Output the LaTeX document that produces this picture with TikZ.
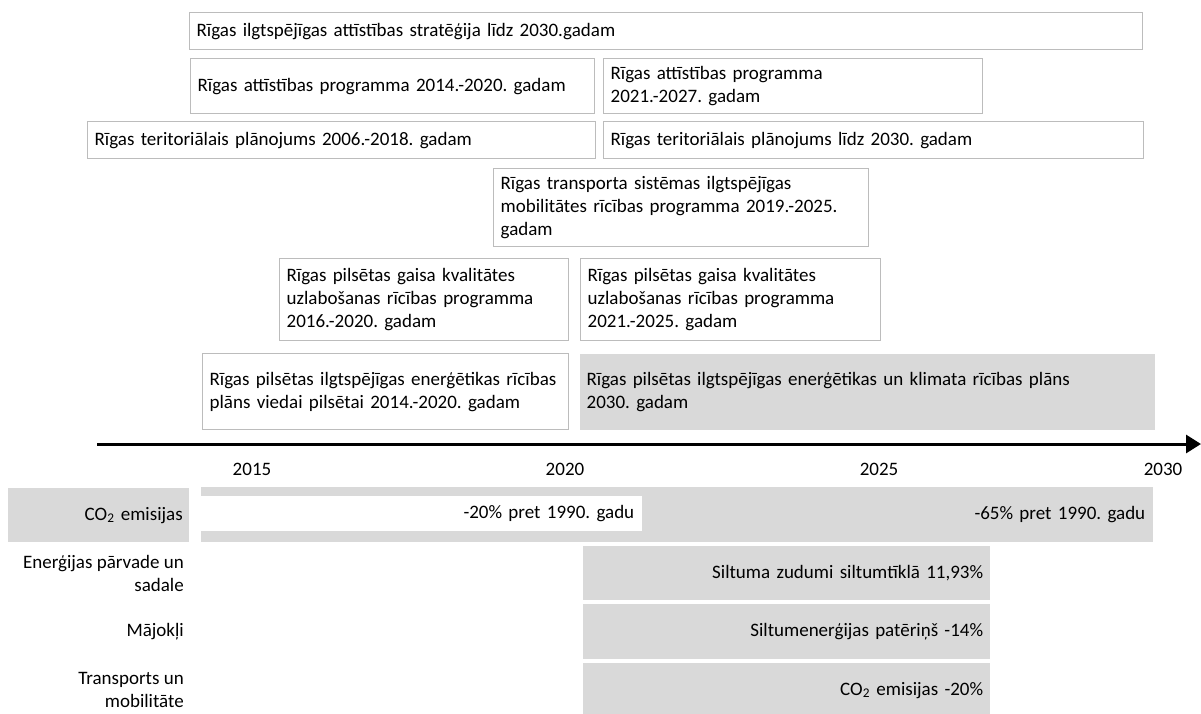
\documentclass[tikz,border=0pt]{standalone}
\usepackage{fontspec}
\setmainfont{Carlito}
\usetikzlibrary{arrows.meta}
\definecolor{boxgray}{HTML}{BCBCBC}
\definecolor{fillgray}{HTML}{D9D9D9}

\begin{document}
\begin{tikzpicture}[x=1pt,y=-1pt,
  every node/.style={font=\fontsize{19}{23}\selectfont\frenchspacing},
  plan/.style={draw=boxgray, line width=1.3pt, anchor=north west, align=left, inner xsep=7pt, inner ysep=0pt},
  target/.style={fill=fillgray, anchor=north west, align=right, inner xsep=7pt, inner ysep=0pt}]
  \useasboundingbox (0,0) rectangle (1201,713);

  % planning documents
  \node[plan, text width=939pt, minimum height=37pt] (strat) at (189,12) {Rīgas ilgtspējīgas attīstības stratēģija līdz 2030.gadam};
  \node[plan, text width=390pt, minimum height=55pt] (attist1) at (190,58) {Rīgas attīstības programma 2014.-2020. gadam};
  \node[plan, text width=365pt, minimum height=55pt] (attist2) at (603,58) {Rīgas attīstības programma\\2021.-2027. gadam};
  \node[plan, text width=494pt, minimum height=37pt] (terit1) at (87,121) {Rīgas teritoriālais plānojums 2006.-2018. gadam};
  \node[plan, text width=526pt, minimum height=37pt] (terit2) at (603,121) {Rīgas teritoriālais plānojums līdz 2030. gadam};
  \node[plan, text width=361pt, minimum height=78pt] (transp) at (493,168) {Rīgas transporta sistēmas ilgtspējīgas\\mobilitātes rīcības programma 2019.-2025.\\gadam};
  \node[plan, text width=275pt, minimum height=82pt] (gaisa1) at (279,258) {Rīgas pilsētas gaisa kvalitātes\\uzlabošanas rīcības programma\\2016.-2020. gadam};
  \node[plan, text width=286pt, minimum height=82pt] (gaisa2) at (580,258) {Rīgas pilsētas gaisa kvalitātes\\uzlabošanas rīcības programma\\2021.-2025. gadam};
  \node[plan, text width=352pt, minimum height=76pt] (energ1) at (202,353) {Rīgas pilsētas ilgtspējīgas enerģētikas rīcības\\plāns viedai pilsētai 2014.-2020. gadam};
  \node[plan, draw=none, fill=fillgray, text width=561pt, minimum height=76pt] (klimat) at (579,353) {Rīgas pilsētas ilgtspējīgas enerģētikas un klimata rīcības plāns\\2030. gadam};

  % time axis
  \coordinate (axisstart) at (97,444);
  \coordinate (axisend) at (1201,444);
  \draw[line width=3pt, -{Triangle[length=15pt,width=18pt]}] (axisstart) -- (axisend);

  \node (y2015) at (252,469) {2015};
  \node (y2020) at (565,469) {2020};
  \node (y2025) at (879,469) {2025};
  \node (y2030) at (1163,469) {2030};

  % targets
  \node[target, text width=168pt, minimum height=54pt, inner xsep=6.5pt] (co2lbl) at (8,488) {CO\textsubscript{2} emisijas};
  \node[target, text width=936pt, minimum height=55pt, inner xsep=8pt] (co2bar) at (201,487) {-65\% pret 1990. gadu};
  \node[target, fill=white, text width=425pt, minimum height=35pt, inner xsep=8pt] (co2mid) at (201,496) {-20\% pret 1990. gadu};

  \node[anchor=east, align=right, inner sep=0pt] (enlbl) at (184,573) {Enerģijas pārvade un\\sadale};
  \node[anchor=east, inner sep=0pt] (majlbl) at (184,632) {Mājokļi};
  \node[anchor=east, align=right, inner sep=0pt] (trlbl) at (184,690) {Transports un\\mobilitāte};

  \node[target, text width=393pt, minimum height=54pt] (enbar) at (583,546) {Siltuma zudumi siltumtīklā 11,93\%};
  \node[target, text width=393pt, minimum height=55pt] (majbar) at (583,604) {Siltumenerģijas patēriņš -14\%};
  \node[target, text width=393pt, minimum height=54pt] (trbar) at (583,663) {CO\textsubscript{2} emisijas -20\%};
\end{tikzpicture}
\end{document}
